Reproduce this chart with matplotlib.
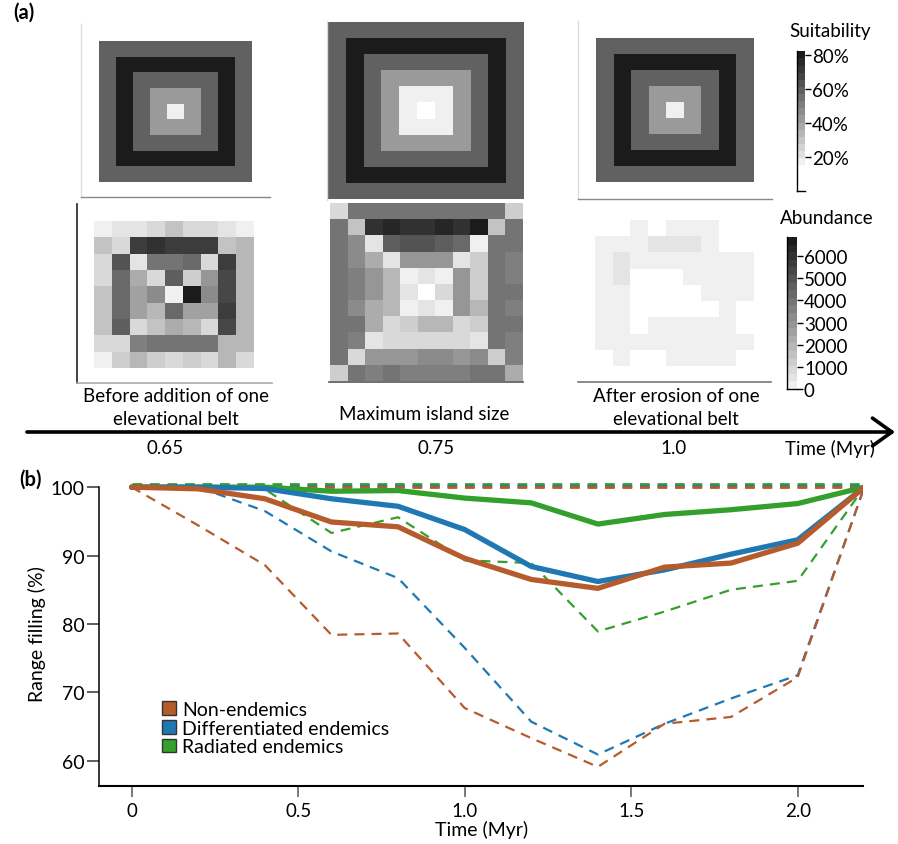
import numpy as np
import matplotlib
matplotlib.use("Agg")
import matplotlib.pyplot as plt
from matplotlib.colors import LinearSegmentedColormap, Normalize
from matplotlib.patches import Patch

plt.rcParams['font.family'] = ['Lato', 'DejaVu Sans']

W, H = 898, 845

# ---------------- data: panel (b) ----------------
times = [0.0, 0.2, 0.4, 0.6, 0.8, 1.0, 1.2, 1.4, 1.6, 1.8, 2.0, 2.2]
non_mean = [100, 99.75, 98.3, 94.9, 94.2, 89.6, 86.5, 85.2, 88.3, 88.9, 91.8, 100]
non_min = [100, 94.4, 88.6, 78.4, 78.6, 67.7, 63.3, 59.1, 65.4, 66.4, 72.2, 100]
non_max = [100.0, 100.0, 100.0, 100.0, 100.0, 100.0, 100.0, 100.0, 100.0, 100.0, 100.0, 100.0]
diff_mean = [100, 100, 99.8, 98.3, 97.2, 93.8, 88.4, 86.2, 87.9, 90.2, 92.3, 100]
diff_min = [100, 100, 96.5, 90.6, 86.7, 76.5, 65.7, 60.9, 65.4, 69.1, 72.5, 100]
diff_max = [100.2, 100.2, 100.2, 100.2, 100.2, 100.2, 100.2, 100.2, 100.2, 100.2, 100.2, 100.2]
rad_mean = [100, 100, 100, 99.4, 99.5, 98.4, 97.7, 94.6, 96.0, 96.7, 97.6, 100]
rad_min = [100, 100, 99.7, 93.3, 95.6, 89.3, 88.9, 78.9, 81.8, 85.0, 86.3, 100]
rad_max = [100.4, 100.4, 100.4, 100.4, 100.4, 100.4, 100.4, 100.4, 100.4, 100.4, 100.4, 100.4]

legend_labels = ["Non-endemics", "Differentiated endemics", "Radiated endemics"]
x_ticks = [0, 0.5, 1.0, 1.5, 2.0]
x_tick_labels = ["0", "0.5", "1.0", "1.5", "2.0"]
y_ticks = [60, 70, 80, 90, 100]

# ---------------- data: panel (a) ----------------
suit_rings_small = [60, 81, 60, 42, 17]          # outer ring -> centre (9x9)
suit_rings_large = [60, 81, 60, 42, 17, np.nan]   # outer ring -> centre (11x11)

abund_before = [
    [100, 500, 500, 850, 1550, 850, 850, 500, 100],
    [1550, 850, 5650, 6000, 5650, 5650, 5650, 1550, 1900],
    [850, 5000, 500, 3950, 3950, 4300, 850, 5650, 1900],
    [850, 4300, 2250, 850, 4650, 1200, 2900, 5300, 1900],
    [1550, 4300, 2550, 3250, 100, 6700, 3250, 5300, 1900],
    [1550, 4300, 2550, 1900, 4300, 2550, 2550, 5650, 1900],
    [1550, 4650, 850, 1550, 2250, 1900, 850, 5300, 1900],
    [850, 850, 3600, 3950, 3950, 3950, 3950, 1900, 1900],
    [100, 1200, 1900, 1200, 850, 1200, 850, 1900, 850],
]
abund_max = [
    [850, 3950, 3950, 3950, 3950, 3950, 3950, 3950, 3950, 3950, 1200],
    [3950, 1550, 6000, 6350, 6000, 6000, 6350, 6000, 6700, 1550, 3950],
    [3950, 3250, 500, 4650, 5000, 5000, 4650, 4300, 100, 3950, 3950],
    [3950, 3250, 2250, 500, 2900, 2900, 2900, 500, 1200, 3950, 3600],
    [3950, 3600, 2900, 1900, 100, 500, 100, 2900, 1200, 3950, 3600],
    [3950, 3600, 2900, 1900, 500, np.nan, 850, 2900, 1200, 3950, 3950],
    [3950, 3250, 2250, 1900, 100, 500, 100, 2900, 1900, 3950, 3600],
    [3950, 3950, 2250, 850, 1200, 1900, 1900, 850, 1200, 3950, 3950],
    [3950, 3600, 500, 850, 850, 850, 850, 850, 500, 3950, 3600],
    [3950, 850, 2900, 2900, 2900, 3250, 3250, 2900, 3250, 1200, 3600],
    [1200, 3950, 3600, 3950, 3600, 3600, 3600, 3600, 3950, 3950, 2250],
]
nan = np.nan
abund_after = [
    [nan, nan, 100, nan, 100, 100, 100, nan, nan],
    [100, 100, 100, 500, 500, 500, 100, nan, nan],
    [100, 500, 100, 100, 100, 100, 100, 100, 100],
    [100, 500, nan, nan, nan, 100, 100, 100, 100],
    [100, 100, nan, nan, nan, nan, 100, 100, 100],
    [100, 100, nan, nan, nan, nan, nan, 100, nan],
    [100, 100, nan, 100, 100, 100, 100, 100, nan],
    [100, 100, 100, 100, 100, 100, 100, 100, 100],
    [nan, 100, nan, nan, 100, 100, 100, 100, nan],
]
suit_ticks = [20, 40, 60, 80]
suit_tick_labels = ["20%", "40%", "60%", "80%"]
abund_ticks = [0, 1000, 2000, 3000, 4000, 5000, 6000]
time_marks = ["0.65", "0.75", "1.0"]
panel_titles = ["Before addition of one\nelevational belt", "Maximum island size",
                "After erosion of one\nelevational belt"]

# colours
c_non = "#b65b2c"
c_diff = "#1f78b4"
c_rad = "#33a02c"

suit_cmap = LinearSegmentedColormap.from_list("suit", ["#f0f0f0", "#1b1b1b"], N=16)
suit_cmap.set_bad("white")
suit_norm = Normalize(15, 82.35)
ab_cmap = LinearSegmentedColormap.from_list("ab", ["#f0f0f0", "#1b1b1b"], N=20)
ab_cmap.set_bad("white")
ab_norm = Normalize(0, 6860)

FS_A = 13.5
FS_B = 14


def rings_to_grid(rings):
    n = 2 * len(rings) - 1
    idx = np.arange(n)
    c = len(rings) - 1
    d = np.maximum(np.abs(idx[:, None] - c), np.abs(idx[None, :] - c))
    return np.array(rings, dtype=float)[c - d]


fig = plt.figure(figsize=(W / 100, H / 100), dpi=100)


def px_rect(x0, y0, x1, y1):
    return [x0 / W, 1 - y1 / H, (x1 - x0) / W, (y1 - y0) / H]


# overlay axes for free text in pixel coords
ov = fig.add_axes([0, 0, 1, 1], zorder=-5)
ov.set_xlim(0, W)
ov.set_ylim(H, 0)
ov.axis("off")


def grid_panel(frame, img, data, cmap, norm, left_c=None, bottom_c=None, slw=1.0):
    data = np.asarray(data, dtype=float)
    ax = fig.add_axes(px_rect(*frame))
    nr, nc = data.shape
    cw = (img[2] - img[0]) / nc
    ch = (img[3] - img[1]) / nr
    ax.imshow(np.ma.masked_invalid(data), cmap=cmap, norm=norm, extent=(0, nc, nr, 0),
              aspect="auto", interpolation="nearest")
    ax.set_xlim(-(img[0] - frame[0]) / cw, nc + (frame[2] - img[2]) / cw)
    ax.set_ylim(nr + (frame[3] - img[3]) / ch, -(img[1] - frame[1]) / ch)
    ax.set_xticks([])
    ax.set_yticks([])
    ax.patch.set_alpha(0)
    for s in ["top", "right"]:
        ax.spines[s].set_visible(False)
    if left_c:
        ax.spines["left"].set_color(left_c)
        ax.spines["left"].set_linewidth(slw)
    else:
        ax.spines["left"].set_visible(False)
    if bottom_c:
        ax.spines["bottom"].set_color(bottom_c)
        ax.spines["bottom"].set_linewidth(slw)
    else:
        ax.spines["bottom"].set_visible(False)
    return ax


# top row: suitability
grid_panel((81, 25, 270, 198), (99, 42, 252, 183), rings_to_grid(suit_rings_small),
           suit_cmap, suit_norm, left_c="#dddddd", bottom_c="#888888")
grid_panel((327, 22, 523, 201), (328, 23, 523, 200), rings_to_grid(suit_rings_large),
           suit_cmap, suit_norm, left_c="#dddddd")
grid_panel((578, 22, 772, 200), (596, 39, 754, 183), rings_to_grid(suit_rings_small),
           suit_cmap, suit_norm, left_c="#dddddd", bottom_c="#888888")

# bottom row: abundance
grid_panel((77, 205, 272, 384), (94, 222, 254, 369), abund_before,
           ab_cmap, ab_norm, left_c="#222222", bottom_c="#aaaaaa", slw=1.2)
grid_panel((329, 204, 523, 383), (330, 205, 523, 382), abund_max,
           ab_cmap, ab_norm, bottom_c="#555555", slw=1.2)
grid_panel((578, 205, 771, 383), (595, 222, 753, 367), abund_after,
           ab_cmap, ab_norm, bottom_c="#777777", slw=1.2)


def colorbar_axes(frame, vmin_col, vmax, cmap, norm, ticks, labels):
    ax = fig.add_axes(px_rect(*frame))
    vals = np.linspace(vmin_col, vmax, 400)[:, None]
    ax.imshow(vals, cmap=cmap, norm=norm, extent=(0, 1, vmin_col, vmax), origin="lower",
              aspect="auto", interpolation="nearest")
    ax.set_xlim(0, 1)
    ax.set_ylim(0, vmax)
    ax.set_xticks([])
    ax.yaxis.set_ticks_position("right")
    ax.set_yticks(ticks)
    ax.set_yticklabels(labels)
    ax.tick_params(axis="y", length=4, width=1, pad=1, labelsize=13.5, colors="black")
    ax.spines["top"].set_visible(False)
    ax.spines["right"].set_visible(False)
    ax.spines["left"].set_linewidth(1)
    ax.spines["bottom"].set_linewidth(1)
    ax.patch.set_alpha(0)
    return ax


colorbar_axes((797, 52, 805, 192), 15.3, 82.35, suit_cmap, suit_norm, suit_ticks, suit_tick_labels)
colorbar_axes((787, 238, 797, 390), 0, 6860, ab_cmap, ab_norm, abund_ticks,
              [str(t) for t in abund_ticks])

ov.text(830, 31, "Suitability", ha="center", va="center", fontsize=FS_A)
ov.text(827, 218, "Abundance", ha="center", va="center", fontsize=FS_A)

# panel labels
ov.text(24, 13, "(a)", ha="center", va="center", fontsize=14.5, fontweight="bold")
ov.text(30, 480, "(b)", ha="center", va="center", fontsize=14.5, fontweight="bold")

# image titles
ov.text(176, 408, panel_titles[0], ha="center", va="center", fontsize=FS_A, linespacing=1.36)
ov.text(424, 415, panel_titles[1], ha="center", va="center", fontsize=FS_A)
ov.text(676, 408, panel_titles[2], ha="center", va="center", fontsize=FS_A, linespacing=1.36)

# time line arrow
ov.annotate("", xy=(895, 433), xytext=(27, 433),
            arrowprops=dict(arrowstyle="->,head_length=0.7,head_width=0.5", lw=2.6,
                            color="black", mutation_scale=20, shrinkA=0, shrinkB=0))
for xp, t in zip([165, 436, 674], time_marks):
    ov.text(xp, 449, t, ha="center", va="center", fontsize=FS_A)
ov.text(830, 449, "Time (Myr)", ha="center", va="center", fontsize=FS_A)

# ---------------- panel (b) ----------------
axb = fig.add_axes(px_rect(99, 481.3, 863.3, 787))
axb.patch.set_alpha(0)
dl = dict(lw=1.6, dashes=(4.5, 3.2))
dm = dict(lw=2.0, dashes=(3.5, 2.8))
axb.plot(times, rad_max, color=c_rad, **dm)
axb.plot(times, diff_max, color=c_diff, **dm)
axb.plot(times, non_max, color=c_non, **dm)
axb.plot(times, rad_min, color=c_rad, **dl)
axb.plot(times, diff_min, color=c_diff, **dl)
axb.plot(times, non_min, color=c_non, **dl)
sl = dict(lw=3.8, solid_capstyle="round", solid_joinstyle="round")
axb.plot(times, rad_mean, color=c_rad, **sl)
axb.plot(times, diff_mean, color=c_diff, **sl)
axb.plot(times, non_mean, color=c_non, **sl)

axb.set_xlim(-0.098, 2.197)
axb.set_ylim(56.3, 101.0)
axb.spines["top"].set_visible(False)
axb.spines["right"].set_visible(False)
axb.spines["left"].set_bounds(56.3, 100)
axb.spines["left"].set_linewidth(1.1)
axb.spines["bottom"].set_linewidth(1.5)
axb.set_xticks(x_ticks)
axb.set_xticklabels(x_tick_labels)
axb.set_yticks(y_ticks)
axb.tick_params(axis="x", length=8, width=1.1, color="#555555", pad=3.5, labelsize=13.5)
axb.tick_params(axis="y", length=8.5, width=1.1, color="#333333", pad=2, labelsize=FS_B)
axb.set_xlabel("Time (Myr)", fontsize=FS_B, labelpad=1)
axb.set_ylabel("Range filling (%)", fontsize=FS_B, labelpad=3)

handles = [Patch(facecolor=c, edgecolor="#333333", lw=1) for c in (c_non, c_diff, c_rad)]
fig.legend(handles, legend_labels, loc="upper left",
           bbox_to_anchor=(162 / W, 1 - 702 / H), bbox_transform=fig.transFigure,
           frameon=False, fontsize=FS_B, handlelength=0.7, handleheight=0.7,
           handletextpad=0.35, labelspacing=0.08, borderpad=0, borderaxespad=0)

fig.savefig("out.png", dpi=100)
